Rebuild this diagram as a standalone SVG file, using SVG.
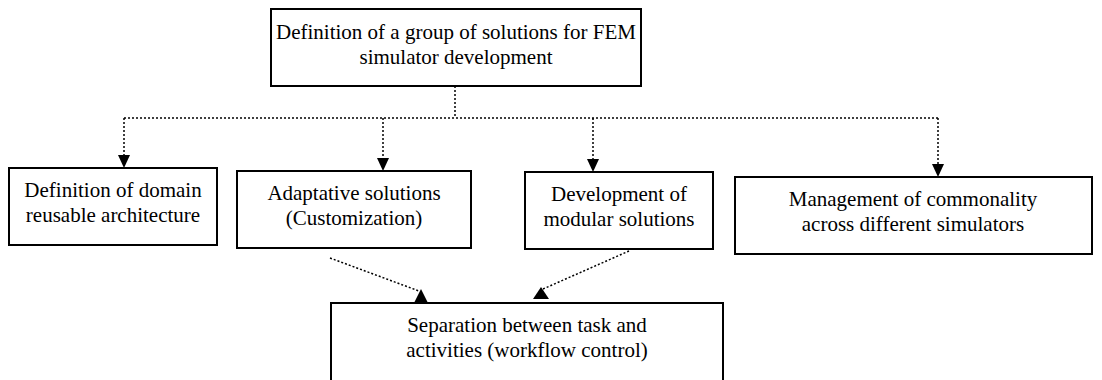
<svg xmlns="http://www.w3.org/2000/svg" width="1102" height="380" viewBox="0 0 1102 380">
<style>
.box{fill:#fff;stroke:#000;stroke-width:2}
.t{font-family:"Liberation Serif","Times New Roman",serif;font-size:21px;fill:#000;text-anchor:middle}
.c{fill:none;stroke:#000;stroke-width:1.5;stroke-dasharray:2 2}
.ah{fill:#000}
</style>
<rect width="1102" height="380" fill="#fff"/>
<g id="connectors">
<path class="c" d="M455 86V118M124 118H938M124 118V156M383 118V159M593 118V160M938 118V165"/>
<polygon class="ah" points="118,155 130,155 124,168"/>
<polygon class="ah" points="377,158 389,158 383,171"/>
<polygon class="ah" points="587,159 599,159 593,172"/>
<polygon class="ah" points="932,164 944,164 938,177"/>
<path class="c" d="M330 258L419 291M629 251L543 289"/>
<polygon class="ah" points="421,289 414,303 428,303"/>
<polygon class="ah" points="541,287 533,299 549,299"/>
</g>
<g id="n0"><rect class="box" x="271" y="9" width="370" height="77"/>
<text class="t" x="456" y="39">Definition of a group of solutions for FEM</text>
<text class="t" x="456" y="64">simulator development</text></g>
<g id="n1"><rect class="box" x="9" y="168" width="208" height="77"/>
<text class="t" x="113" y="197">Definition of domain</text>
<text class="t" x="113" y="222">reusable architecture</text></g>
<g id="n2"><rect class="box" x="237" y="171" width="234" height="77"/>
<text class="t" x="354" y="200">Adaptative solutions</text>
<text class="t" x="354" y="225">(Customization)</text></g>
<g id="n3"><rect class="box" x="525" y="172" width="188" height="77"/>
<text class="t" x="619" y="201">Development of</text>
<text class="t" x="619" y="226">modular solutions</text></g>
<g id="n4"><rect class="box" x="735" y="177" width="357" height="77"/>
<text class="t" x="913" y="206">Management of commonality</text>
<text class="t" x="913" y="231">across different simulators</text></g>
<g id="n5"><rect class="box" x="331" y="303" width="392" height="82"/>
<text class="t" x="527" y="332">Separation between task and</text>
<text class="t" x="527" y="357">activities (workflow control)</text></g>
</svg>
